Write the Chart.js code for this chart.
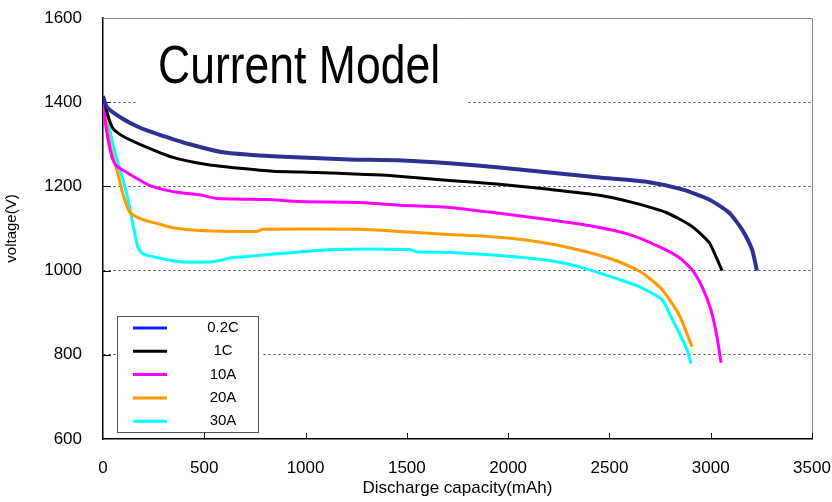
<!DOCTYPE html>
<html>
<head>
<meta charset="utf-8">
<script src="https://cdn.jsdelivr.net/npm/chart.js@4.4.1/dist/chart.umd.min.js"></script>
<style>
  html, body { margin: 0; padding: 0; background: #fff; }
  #wrap { width: 832px; height: 502px; position: relative; }
</style>
</head>
<body>
<div id="wrap"><canvas id="chart"></canvas></div>
<script>
// Series labels and colours
const seriesNames = ['0.2C', '1C', '10A', '20A', '30A'];
const lineColors = ['#2e3192', '#000000', '#ff00ff', '#ff9900', '#00ffff'];
const legendColors = ['#1a1aff', '#000000', '#ff00ff', '#ff9900', '#00ffff'];

// Discharge capacity (mAh) / voltage readings per series
const cap02C = [0, 20, 99, 180, 266, 429, 591, 759, 922, 1217, 1449, 1710, 1957, 2203, 2450, 2696, 2859, 2992, 3090, 3154, 3204, 3228];
const volt02C = [1414, 1388, 1360, 1340, 1325, 1300, 1281, 1274, 1270, 1264, 1262, 1255, 1245, 1233, 1221, 1210, 1193, 1169, 1138, 1098, 1050, 1000];

const cap1C = [0, 25, 49, 99, 182, 345, 512, 675, 838, 1055, 1267, 1414, 1710, 1957, 2203, 2450, 2612, 2780, 2908, 2992, 3026, 3056];
const volt1C = [1414, 1367, 1338, 1319, 1300, 1269, 1252, 1243, 1236, 1233, 1229, 1226, 1214, 1205, 1193, 1179, 1162, 1138, 1105, 1067, 1033, 1000];

const cap10A = [0, 15, 44, 64, 118, 232, 365, 478, 562, 808, 971, 1267, 1464, 1710, 1957, 2203, 2400, 2597, 2745, 2844, 2908, 2957, 3001, 3031, 3051];
const volt10A = [1407, 1340, 1270, 1250, 1233, 1202, 1186, 1180, 1171, 1169, 1164, 1162, 1155, 1150, 1136, 1121, 1107, 1086, 1057, 1031, 1002, 962, 907, 843, 781];

const cap20A = [0, 34, 74, 99, 133, 197, 266, 345, 478, 641, 759, 788, 1267, 1464, 1710, 1957, 2203, 2400, 2548, 2661, 2760, 2844, 2908];
const volt20A = [1414, 1300, 1229, 1181, 1138, 1121, 1112, 1102, 1095, 1093, 1093, 1098, 1098, 1093, 1086, 1079, 1064, 1043, 1021, 995, 955, 895, 819];

const cap30A = [0, 49, 118, 172, 197, 266, 379, 542, 641, 724, 887, 1134, 1513, 1548, 1710, 1957, 2203, 2366, 2548, 2647, 2760, 2804, 2844, 2883, 2903];
const volt30A = [1414, 1300, 1181, 1055, 1040, 1031, 1021, 1021, 1031, 1034, 1041, 1050, 1050, 1045, 1043, 1036, 1024, 1007, 979, 962, 931, 890, 852, 812, 779];

const capSeries = [cap02C, cap1C, cap10A, cap20A, cap30A];
const voltSeries = [volt02C, volt1C, volt10A, volt20A, volt30A];
const lineWidths = [4, 3, 3, 3, 3];

// Axis ticks
const xTicks = [0, 500, 1000, 1500, 2000, 2500, 3000, 3500];
const yTicks = [600, 800, 1000, 1200, 1400, 1600];

const chartTitle = 'Current Model';
const fontFamily = "'Liberation Sans', Arial, sans-serif";

// Build datasets
const datasets = seriesNames.map((name, i) => ({
    label: name,
    data: capSeries[i].map((c, j) => ({ x: c, y: voltSeries[i][j] })),
    borderColor: lineColors[i],
    backgroundColor: lineColors[i],
    borderWidth: lineWidths[i],
    pointRadius: 0,
    showLine: true,
    tension: 0.2,
    fill: false
}));

// Draw title box, legend box, gray frame and inward tick marks
const decorPlugin = {
    id: 'decor',
    beforeDatasetsDraw(chart) {
        const ctx = chart.ctx;
        const area = chart.chartArea;
        const xs = chart.scales.x;
        const ys = chart.scales.y;
        ctx.save();

        // gray top and right frame
        ctx.strokeStyle = '#888';
        ctx.lineWidth = 1;
        ctx.beginPath();
        ctx.moveTo(area.left, area.top + 0.5);
        ctx.lineTo(area.right + 0.5, area.top + 0.5);
        ctx.lineTo(area.right + 0.5, area.bottom);
        ctx.stroke();

        // inward tick marks
        ctx.strokeStyle = '#000';
        ctx.lineWidth = 1;
        ctx.beginPath();
        xTicks.slice(1).forEach(v => {
            const px = Math.round(xs.getPixelForValue(v)) + 0.5;
            ctx.moveTo(px, area.bottom);
            ctx.lineTo(px, area.bottom - 6);
        });
        yTicks.slice(1, -1).forEach(v => {
            const py = Math.round(ys.getPixelForValue(v)) + 0.5;
            ctx.moveTo(area.left, py);
            ctx.lineTo(area.left + 8, py);
        });
        ctx.stroke();

        // title box (white, hides the grid behind it)
        ctx.fillStyle = '#fff';
        ctx.fillRect(138, area.top + 2, 328, 86);
        ctx.fillStyle = '#000';
        ctx.font = "53px 'Liberation Sans Narrow', 'Liberation Sans', Arial, sans-serif";
        ctx.textBaseline = 'alphabetic';
        ctx.textAlign = 'left';
        ctx.save();
        ctx.translate(158, 83);
        ctx.scale(0.84, 1);
        ctx.fillText(chartTitle, 0, 0);
        ctx.restore();

        // legend box
        const lx = 117, ly = 316, lw = 141, lh = 116;
        ctx.fillStyle = '#fff';
        ctx.fillRect(lx, ly, 146, lh);
        ctx.strokeStyle = '#555';
        ctx.lineWidth = 1;
        ctx.strokeRect(lx + 0.5, ly + 0.5, lw, lh);
        ctx.font = '15px ' + fontFamily;
        ctx.textAlign = 'center';
        ctx.textBaseline = 'middle';
        seriesNames.forEach((name, i) => {
            const cy = 328 + i * 23.3;
            ctx.strokeStyle = legendColors[i];
            ctx.lineWidth = 3;
            ctx.beginPath();
            ctx.moveTo(133, cy);
            ctx.lineTo(167, cy);
            ctx.stroke();
            ctx.fillStyle = '#000';
            ctx.fillText(name, 223, cy);
        });
        ctx.restore();
    }
};

new Chart(document.getElementById('chart').getContext('2d'), {
    type: 'scatter',
    data: { datasets: datasets },
    options: {
        responsive: true,
        maintainAspectRatio: false,
        animation: false,
        layout: { padding: { top: 18, right: 20, left: 0, bottom: 0 } },
        plugins: {
            legend: { display: false },
            tooltip: { enabled: false }
        },
        scales: {
            x: {
                type: 'linear',
                min: 0,
                max: 3500,
                afterFit: scale => {
                    scale.height = 63;
                    scale.paddingLeft = 0;
                    scale.paddingRight = 0;
                },
                afterBuildTicks: scale => { scale.ticks = xTicks.map(v => ({ value: v })); },
                grid: { display: false, drawTicks: false },
                border: { display: true, color: '#000', width: 1.5 },
                ticks: {
                    color: '#000',
                    padding: 19,
                    maxRotation: 0,
                    callback: v => String(v),
                    font: { family: fontFamily, size: 17 }
                },
                title: {
                    display: true,
                    text: 'Discharge capacity(mAh)',
                    color: '#000',
                    padding: { top: 3, bottom: 3 },
                    font: { family: fontFamily, size: 17 }
                }
            },
            y: {
                type: 'linear',
                min: 600,
                max: 1600,
                afterFit: scale => {
                    scale.width = 103;
                    scale.paddingTop = 0;
                    scale.paddingBottom = 0;
                },
                afterBuildTicks: scale => { scale.ticks = yTicks.map(v => ({ value: v })); },
                grid: {
                    drawTicks: false,
                    lineWidth: 1,
                    color: ctx => (ctx.tick && (ctx.tick.value === 600 || ctx.tick.value === 1600)) ? 'rgba(0,0,0,0)' : '#444'
                },
                border: { display: true, color: '#000', width: 1.5, dash: [2, 3] },
                ticks: {
                    color: '#000',
                    padding: 21,
                    callback: v => String(v),
                    font: { family: fontFamily, size: 17 }
                },
                title: {
                    display: true,
                    text: 'voltage(V)',
                    color: '#000',
                    padding: { top: 3, bottom: 3 },
                    font: { family: fontFamily, size: 15 }
                }
            }
        }
    },
    plugins: [decorPlugin]
});
</script>
</body>
</html>
